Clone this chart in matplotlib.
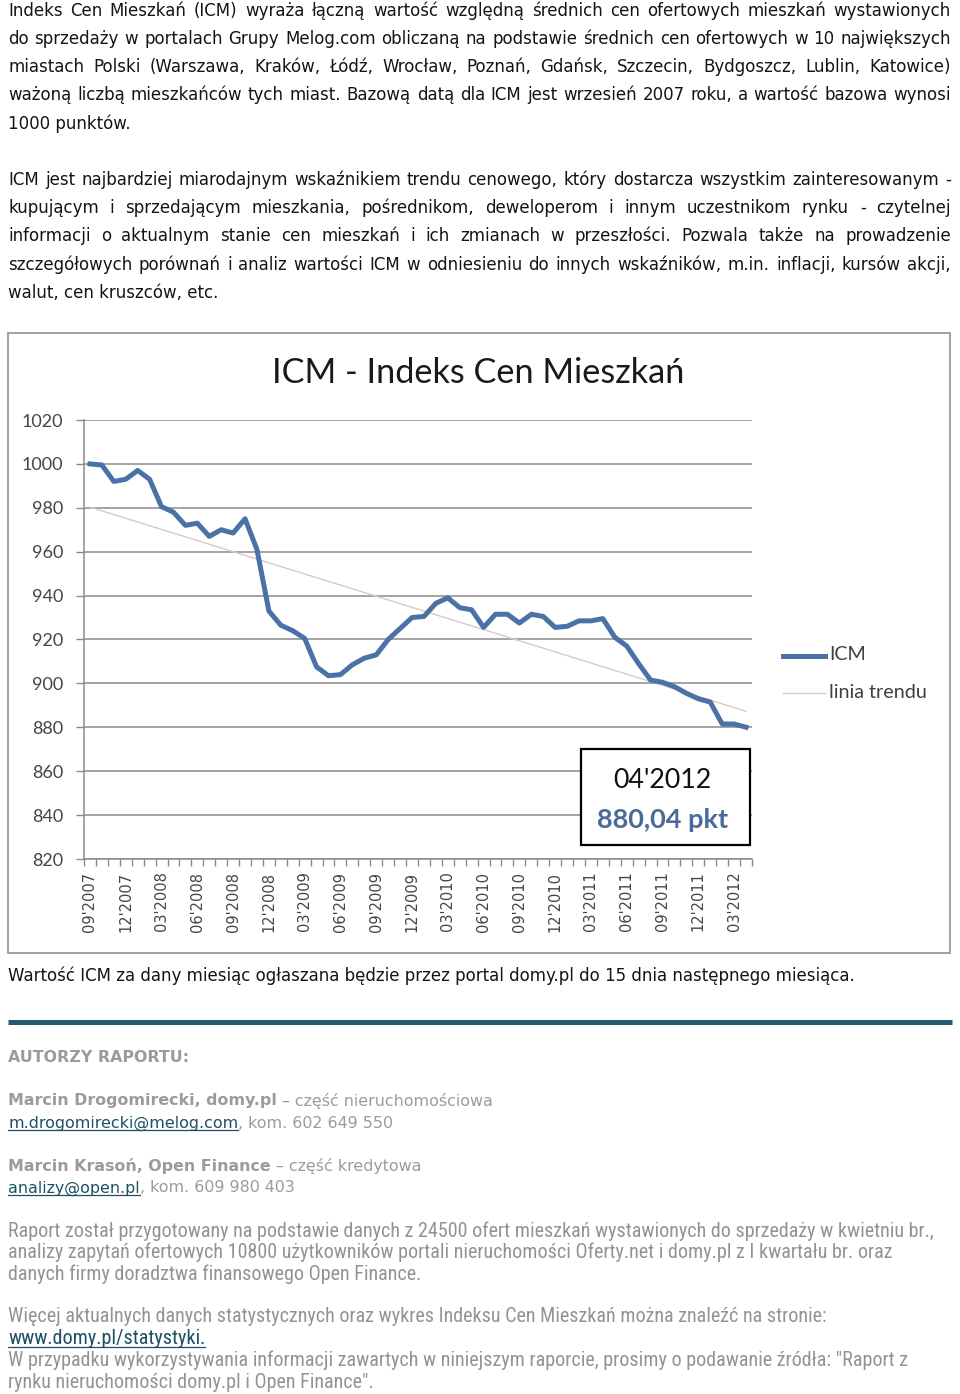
import numpy as np
import matplotlib
matplotlib.use("Agg")
import matplotlib.pyplot as plt
from matplotlib import font_manager
from matplotlib.patches import Rectangle
from matplotlib.lines import Line2D
from matplotlib.transforms import Affine2D

# ICM monthly values, 09'2007 .. 04'2012
icm = [1000.0, 999.5, 992.0, 993.0, 997.0, 993.0, 980.5, 978.0, 972.0, 973.0,
       967.0, 970.0, 968.5, 975.0, 961.0, 933.0, 926.5, 924.0, 920.5, 907.5,
       903.5, 904.0, 908.5, 911.5, 913.0, 920.0, 925.0, 930.0, 930.5, 936.5,
       939.0, 934.5, 933.5, 925.5, 931.5, 931.5, 927.5, 931.5, 930.5, 925.5,
       926.0, 928.5, 928.5, 929.5, 921.0, 917.0, 909.0, 901.5, 900.5, 898.5,
       895.5, 893.0, 891.5, 881.5, 881.5, 880.04]
trend = [980.3, 887.3]  # linia trendu, first and last month
tick_labels = ["09'2007", "12'2007", "03'2008", "06'2008", "09'2008", "12'2008",
               "03'2009", "06'2009", "09'2009", "12'2009", "03'2010", "06'2010",
               "09'2010", "12'2010", "03'2011", "06'2011", "09'2011", "12'2011",
               "03'2012"]
yticks = [820, 840, 860, 880, 900, 920, 940, 960, 980, 1000, 1020]

para1 = ["Indeks Cen Mieszkań (ICM) wyraża łączną wartość względną średnich cen ofertowych mieszkań wystawionych",
         "do sprzedaży w portalach Grupy Melog.com obliczaną na podstawie średnich cen ofertowych w 10 największych",
         "miastach Polski (Warszawa, Kraków, Łódź, Wrocław, Poznań, Gdańsk, Szczecin, Bydgoszcz, Lublin, Katowice)",
         "ważoną liczbą mieszkańców tych miast. Bazową datą dla ICM jest wrzesień 2007 roku, a wartość bazowa wynosi",
         "1000 punktów."]
para2 = ["ICM jest najbardziej miarodajnym wskaźnikiem trendu cenowego, który dostarcza wszystkim zainteresowanym -",
         "kupującym i sprzedającym mieszkania, pośrednikom, deweloperom i innym uczestnikom rynku - czytelnej",
         "informacji o aktualnym stanie cen mieszkań i ich zmianach w przeszłości. Pozwala także na prowadzenie",
         "szczegółowych porównań i analiz wartości ICM w odniesieniu do innych wskaźników, m.in. inflacji, kursów akcji,",
         "walut, cen kruszców, etc."]
note = "Wartość ICM za dany miesiąc ogłaszana będzie przez portal domy.pl do 15 dnia następnego miesiąca."
bottom = ["Raport został przygotowany na podstawie danych z 24500 ofert mieszkań wystawionych do sprzedaży w kwietniu br.,",
          "analizy zapytań ofertowych 10800 użytkowników portali nieruchomości Oferty.net i domy.pl z I kwartału br. oraz",
          "danych firmy doradztwa finansowego Open Finance."]
bottom2 = ["Więcej aktualnych danych statystycznych oraz wykres Indeksu Cen Mieszkań można znaleźć na stronie:",
           "www.domy.pl/statystyki.",
           "W przypadku wykorzystywania informacji zawartych w niniejszym raporcie, prosimy o podawanie źródła: \"Raport z",
           "rynku nieruchomości domy.pl i Open Finance\"."]

names = {f.name for f in font_manager.fontManager.ttflist}
narrow = next((n for n in ["Liberation Sans Narrow", "Roboto Condensed", "Open Sans Condensed"] if n in names),
              "Liberation Sans")
calib = "Lato" if "Lato" in names else "Open Sans"
verd = "DejaVu Sans"

W, H = 960, 1394
fig = plt.figure(figsize=(W / 100, H / 100), dpi=100)
fig.patch.set_facecolor("white")
pix = Affine2D().scale(1 / W, -1 / H).translate(0, 1) + fig.transFigure
renderer = fig.canvas.get_renderer()

BLACK = "#141414"
GRAY = "#9b9b9b"
LINK = "#1d4f62"
BLUE = "#4a72a6"


def txt(x, y, s, **kw):
    kw.setdefault("va", "center")
    return fig.text(x, y, s, transform=pix, **kw)


def width(t):
    return t.get_window_extent(renderer).width


def fit(s, target, **kw):
    t = txt(0, 0, s, fontsize=10, **kw)
    w = width(t)
    t.remove()
    return 10 * target / w


def justified(y, line, x0=8, x1=951, **kw):
    words = line.split()
    ts = [txt(0, y, w, **kw) for w in words]
    ws = [width(t) for t in ts]
    gap = (x1 - x0 - sum(ws)) / (len(ws) - 1)
    x = x0
    for t, w in zip(ts, ws):
        t.set_x(x)
        x += w + gap


def underline(x0, x1, y, color):
    fig.add_artist(Line2D([x0, x1], [y, y], transform=pix, color=color, lw=0.9))


def runs(y, parts, x0=8, size=12, family=verd):
    x = x0
    for s, kind in parts:
        lead = len(s) - len(s.lstrip(" "))
        if lead:
            a = txt(0, 0, "a a", fontsize=size, family=family)
            b = txt(0, 0, "aa", fontsize=size, family=family)
            x += lead * (width(a) - width(b))
            a.remove()
            b.remove()
        s = s.lstrip(" ")
        color = LINK if kind == "link" else GRAY
        weight = "bold" if kind == "bold" else "normal"
        t = txt(x, y, s, fontsize=size, family=family, color=color, fontweight=weight)
        w = width(t)
        if kind == "link":
            underline(x, x + w, y + size * 0.62, LINK)
        x += w


# --- top paragraphs ---
fs = fit(note, 850, family=verd)
longest = max(para1[:-1] + para2[:-1], key=lambda s: fit(s, 1, family=verd) * -1)
fs = min(fs, fit(longest, 938, family=verd))
for y, line in zip([11, 39, 67, 95, 124], para1):
    if line is para1[-1]:
        txt(8, y, line, fontsize=fs, family=verd, color=BLACK)
    else:
        justified(y, line, fontsize=fs, family=verd, color=BLACK)
for y, line in zip([180, 208, 236, 265, 293], para2):
    if line is para2[-1]:
        txt(8, y, line, fontsize=fs, family=verd, color=BLACK)
    else:
        justified(y, line, fontsize=fs, family=verd, color=BLACK)

# --- chart frame ---
fig.add_artist(Rectangle((8, 333), 942, 620, transform=pix, facecolor="white",
                         edgecolor="#9a9a9a", lw=1.3, zorder=-1))

ax = fig.add_axes([84 / W, 1 - 859 / H, (752 - 84) / W, (859 - 420) / H])
ax.set_facecolor("none")
x = np.arange(len(icm))
ax.plot([0, len(icm) - 1], trend, color="#dfc6c6", lw=1.0, zorder=2)
ax.plot(x, icm, color=BLUE, lw=3.6, solid_joinstyle="round", zorder=3)
ax.set_xlim(-0.5, len(icm) - 0.5)
ax.set_ylim(820, 1020)
ax.set_yticks(yticks)
ax.set_yticklabels([str(v) for v in yticks], family=calib, fontsize=13, color="#454545")
ax.grid(axis="y", color="#8a8a8a", lw=1.1, zorder=1)
ax.set_xticks(np.arange(0, len(icm), 3))
ax.set_xticklabels(tick_labels, rotation=90, family=verd, fontsize=10.5, color="#454545")
ax.set_xticks(np.arange(-0.5, len(icm), 1), minor=True)
ax.tick_params(axis="x", which="major", length=0, pad=9)
ax.tick_params(axis="x", which="minor", length=5, width=1, color="#8a8a8a", direction="out")
ax.tick_params(axis="y", length=6, width=1, color="#8a8a8a", pad=9)
for side in ["top", "right"]:
    ax.spines[side].set_visible(False)
for side in ["left", "bottom"]:
    ax.spines[side].set_color("#8a8a8a")
    ax.spines[side].set_linewidth(1.1)

# title
ts = fit("ICM - Indeks Cen Mieszkań", 412, family=calib)
txt(478, 373, "ICM - Indeks Cen Mieszkań", fontsize=ts, family=calib, color="#1a1a1a", ha="center")

# legend
fig.add_artist(Line2D([783, 825], [656, 656], transform=pix, color=BLUE, lw=3.6))
fig.add_artist(Line2D([783, 825], [693, 693], transform=pix, color="#d6cccc", lw=1.0))
ls = fit("linia trendu", 98, family=calib)
txt(829, 655, "ICM", fontsize=ls, family=calib, color="#404040")
txt(829, 692, "linia trendu", fontsize=ls, family=calib, color="#404040")

# value box
fig.add_artist(Rectangle((581, 749), 169, 96, transform=pix, facecolor="white",
                         edgecolor="black", lw=1.6, zorder=4))
bs = fit("04'2012", 99, family=calib)
txt(662, 780, "04'2012", fontsize=bs, family=calib, color="#111111", ha="center", zorder=5)
vs = fit("880,04 pkt", 132, family=calib, fontweight="bold")
txt(663, 820, "880,04 pkt", fontsize=vs, family=calib, color="#4a6b98", ha="center",
    fontweight="bold", zorder=5)

# --- note & rule ---
txt(8, 976, note, fontsize=fs, family=verd, color=BLACK)
fig.add_artist(Line2D([8, 952], [1022, 1022], transform=pix, color="#235c71", lw=3.6,
                      solid_capstyle="butt"))

# --- authors ---
a1 = [("Marcin Drogomirecki, domy.pl", "bold"), (" – część nieruchomościowa", "text")]
sa = fit("Marcin Drogomirecki, domy.pl", 268, family=verd, fontweight="bold")
txt(8, 1058, "AUTORZY RAPORTU:", fontsize=sa, family=verd, color=GRAY, fontweight="bold")
runs(1101, a1, size=sa)
runs(1123, [("m.drogomirecki@melog.com", "link"), (", kom. 602 649 550", "text")], size=sa)
runs(1166, [("Marcin Krasoń, Open Finance", "bold"), (" – część kredytowa", "text")], size=sa)
runs(1188, [("analizy@open.pl", "link"), (", kom. 609 980 403", "text")], size=sa)

# --- bottom notes ---
ns = fit(bottom[0], 924, family=narrow)
for y, line in zip([1231, 1252, 1274], bottom):
    txt(8, y, line, fontsize=ns, family=narrow, color="#939393")
for y, line in zip([1317, 1338, 1360, 1382], bottom2):
    if line.startswith("www"):
        t = txt(8, y, line, fontsize=ns, family=narrow, color=LINK)
        underline(8, 8 + width(t), y + ns * 0.62, LINK)
    else:
        txt(8, y, line, fontsize=ns, family=narrow, color="#939393")

fig.savefig("out.png", dpi=100, facecolor="white")
